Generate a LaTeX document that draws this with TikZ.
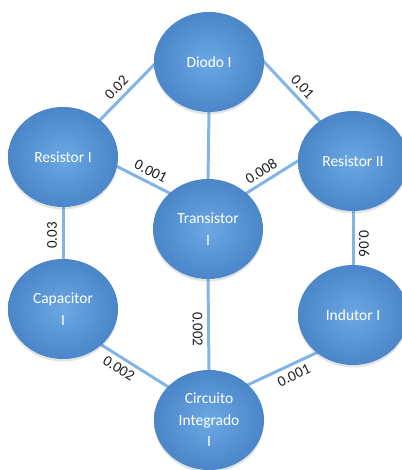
\documentclass[tikz,border=0pt]{standalone}
\usepackage{fontspec}
\setmainfont{Carlito}
\usetikzlibrary{shapes.geometric,shadows,backgrounds}
\definecolor{ballin}{RGB}{108,168,228}
\definecolor{ballout}{RGB}{74,134,200}
\definecolor{linkc}{RGB}{130,180,232}
\definecolor{labc}{RGB}{30,30,30}
\tikzset{
  ball/.style={ellipse, minimum width=110pt, minimum height=100pt, inner sep=0pt,
    inner color=ballin, outer color=ballout, text=white, align=center,
    font=\fontsize{15.5}{21.5}\selectfont,
    drop shadow={opacity=0.22, shadow xshift=0pt, shadow yshift=-2.5pt}},
  link/.style={draw=linkc, line width=3pt, shorten <=-4pt, shorten >=-4pt},
  wlab/.style={sloped, text=labc, font=\fontsize{15}{17}\selectfont, inner sep=4.5pt}
}
\begin{document}
\begin{tikzpicture}[x=1pt,y=-1pt]
\useasboundingbox (0,0) rectangle (401,470);
\node[ball] (d)   at (209,62)  {Diodo I};
\node[ball] (r1)  at (63,157)  {Resistor I};
\node[ball] (r2)  at (353,161) {Resistor II};
\node[ball] (t)   at (208,229) {Transistor\\I};
\node[ball] (c)   at (63,309)  {Capacitor\\I};
\node[ball] (ind) at (353,315) {Indutor I};
\node[ball] (ci)  at (209,420) {Circuito\\Integrado\\I};
\begin{pgfonlayer}{background}
\draw[link] (r1.45) -- node[wlab, above, pos=0.45] {0.02} (d.183);
\draw[link] (d.0) -- node[wlab, above, pos=0.55] {0.01} (r2.130);
\draw[link] (d.south) -- (t.north);
\draw[link] (r1.-10) -- node[wlab, above, pos=0.55] {0.001} (t.137);
\draw[link] (t.43) -- node[wlab, above, pos=0.4] {0.008} (r2.180);
\draw[link] (c.north) -- node[wlab, above, pos=0.45] {0.03} (r1.south);
\draw[link] (r2.south) -- node[wlab, above, pos=0.6] {0.06} (ind.north);
\draw[link] (ci.north) -- node[wlab, below, pos=0.45] {0.002} (t.south);
\draw[link] (c.-43) -- node[wlab, below, pos=0.35] {0.002} (ci.141);
\draw[link] (ci.42) -- node[wlab, below, pos=0.6] {0.001} (ind.226);
\end{pgfonlayer}
\end{tikzpicture}
\end{document}
